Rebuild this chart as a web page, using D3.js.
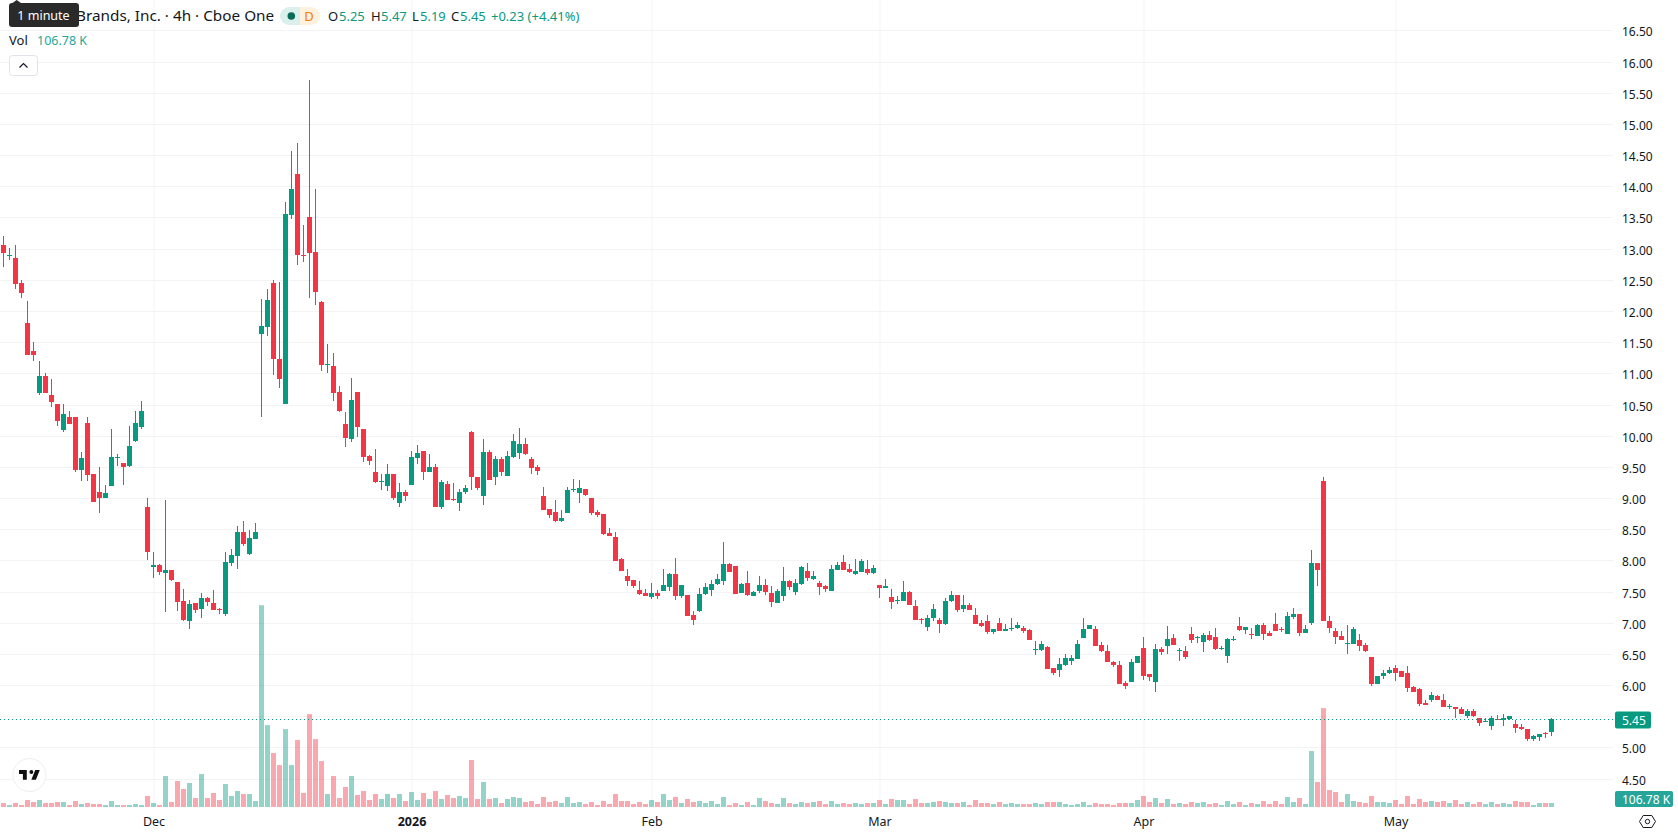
<!DOCTYPE html>
<html>
<head>
<meta charset="utf-8">
<style>
  html, body { margin: 0; padding: 0; background: #fff; }
  svg { display: block; }
  text { font-family: "Noto Sans", "Open Sans", sans-serif; }
</style>
<script src="https://cdn.jsdelivr.net/npm/d3@7/dist/d3.min.js"></script>
</head>
<body>
<div id="chart"></div>
<script>
// Four-hour OHLC candles, oldest first
const opens = [
13.06,12.89,12.85,12.45,11.81,11.36,10.69,10.96,10.66,10.51,
10.09,10.30,10.30,9.45,10.21,9.39,9.10,9.00,9.19,9.64,
9.56,9.52,9.92,10.14,8.86,7.89,7.93,7.80,7.85,7.65,
7.35,7.03,7.32,7.22,7.40,7.32,7.22,7.14,7.96,8.07,
8.46,8.10,8.34,11.63,11.75,12.45,11.23,10.51,13.54,14.19,
12.90,13.51,12.95,12.15,11.14,11.12,10.70,10.19,9.95,10.70,
10.11,9.68,9.42,9.26,9.20,9.39,8.92,9.10,9.21,9.64,
9.76,9.42,9.50,8.86,9.23,8.99,8.92,9.10,10.06,9.34,
9.03,9.74,9.34,9.63,9.36,9.66,9.72,9.87,9.63,9.50,
9.03,8.82,8.78,8.63,8.76,9.13,9.08,9.15,9.00,8.78,
8.74,8.44,8.37,8.02,7.75,7.69,7.53,7.48,7.41,7.48,
7.51,7.57,7.78,7.43,7.45,7.12,7.19,7.46,7.53,7.62,
7.67,7.94,7.91,7.48,7.64,7.43,7.51,7.61,7.48,7.32,
7.43,7.67,7.49,7.62,7.83,7.70,7.64,7.59,7.51,7.85,
7.97,7.86,7.78,7.81,7.86,7.80,7.60,7.56,7.41,7.35,
7.35,7.49,7.27,7.06,6.93,7.07,7.04,6.98,7.35,7.44,
7.22,7.28,7.12,6.99,7.03,6.85,6.99,6.87,6.90,6.91,
6.91,6.88,6.57,6.56,6.61,6.27,6.24,6.32,6.38,6.42,
6.75,6.90,6.90,6.64,6.55,6.37,6.32,6.03,6.05,6.35,
6.59,6.18,6.05,6.58,6.63,6.76,6.56,6.55,6.82,6.76,
6.69,6.80,6.77,6.58,6.47,6.72,6.95,6.88,6.82,6.79,
6.96,6.83,6.98,6.90,6.82,7.09,7.14,6.83,6.99,7.96,
9.27,7.03,6.87,6.79,6.66,6.66,6.72,6.64,6.45,6.02,
6.14,6.19,6.27,6.23,6.19,5.97,5.94,5.71,5.76,5.82,
5.76,5.65,5.65,5.62,5.50,5.58,5.47,5.41,5.34,5.46,
5.44,5.46,5.37,5.33,5.29,5.13,5.17,5.23,5.25];
const highs = [
13.21,13.01,13.06,12.50,12.16,11.51,11.20,11.01,10.91,10.51,
10.51,10.40,10.30,9.74,10.30,9.39,9.50,9.21,10.11,9.71,
9.56,10.16,10.40,10.56,9.00,8.14,7.94,8.97,7.85,7.65,
7.54,7.36,7.32,7.48,7.41,7.53,7.24,8.14,8.18,8.55,
8.63,8.49,8.60,12.20,12.36,12.49,12.47,13.74,14.56,14.70,
13.38,15.70,13.95,12.16,11.47,11.33,10.80,10.38,10.93,10.70,
10.11,9.69,9.79,9.39,9.55,9.39,9.24,9.13,9.76,9.85,
9.76,9.71,9.55,9.29,9.28,9.24,9.15,9.21,10.08,9.34,
9.95,9.77,9.68,9.66,9.76,10.03,10.13,9.97,9.66,9.53,
9.18,8.82,8.97,8.81,9.18,9.31,9.29,9.15,9.00,8.81,
8.74,8.52,8.46,8.04,7.86,7.69,7.67,7.54,7.64,7.53,
7.86,7.80,8.04,7.61,7.45,7.19,7.56,7.64,7.69,7.78,
8.30,7.96,7.91,7.64,7.83,7.51,7.75,7.70,7.59,7.54,
7.89,7.69,7.70,7.91,7.96,7.83,7.67,7.61,7.93,7.97,
8.09,7.94,8.02,8.02,8.01,7.93,7.60,7.70,7.54,7.43,
7.67,7.51,7.36,7.07,7.12,7.30,7.07,7.40,7.51,7.44,
7.44,7.32,7.23,7.04,7.12,6.90,7.07,6.98,7.07,7.01,
6.95,6.90,6.71,6.71,6.63,6.27,6.43,6.50,6.48,6.72,
7.07,6.96,6.95,6.69,6.64,6.38,6.38,6.06,6.42,6.46,
6.77,6.18,6.66,6.61,6.95,6.82,6.60,6.63,6.93,6.79,
6.83,6.87,6.91,6.63,6.76,6.79,7.09,6.93,6.91,6.98,
6.99,6.87,7.16,6.93,7.17,7.24,7.14,6.96,8.17,7.96,
9.34,7.11,6.92,6.87,6.96,6.93,6.82,6.67,6.45,6.14,
6.24,6.29,6.32,6.23,6.31,5.98,5.95,5.76,5.89,5.84,
5.86,5.69,5.65,5.65,5.62,5.62,5.47,5.47,5.50,5.52,
5.54,5.50,5.44,5.37,5.29,5.20,5.21,5.25,5.47];
const lows = [
12.71,12.81,12.36,12.21,11.30,11.20,10.66,10.69,10.46,10.16,
10.06,10.19,9.42,9.27,9.27,8.94,8.76,9.00,9.19,9.52,
9.21,9.50,9.90,10.11,8.01,7.72,7.77,7.17,7.67,7.19,
7.03,6.90,7.16,7.08,7.27,7.20,7.14,7.11,7.91,7.86,
8.23,8.09,8.34,10.30,11.60,10.98,10.77,10.51,13.48,12.74,
12.79,12.21,12.10,11.03,11.01,10.56,10.38,9.82,9.90,9.98,
9.58,9.53,9.24,9.13,9.11,8.97,8.86,8.95,9.21,9.55,
9.29,9.42,8.86,8.83,8.97,8.95,8.79,9.07,9.13,9.13,
8.89,9.29,9.21,9.36,9.36,9.64,9.63,9.69,9.39,9.37,
8.81,8.68,8.62,8.62,8.76,9.10,8.92,9.03,8.73,8.70,
8.41,8.39,7.99,7.83,7.59,7.56,7.45,7.43,7.38,7.38,
7.51,7.51,7.36,7.40,7.11,6.96,7.17,7.45,7.43,7.61,
7.61,7.81,7.46,7.48,7.43,7.43,7.48,7.45,7.25,7.32,
7.35,7.53,7.45,7.61,7.67,7.69,7.45,7.49,7.51,7.85,
7.85,7.80,7.77,7.81,7.77,7.78,7.40,7.56,7.22,7.30,
7.35,7.28,7.04,6.98,6.87,7.03,6.83,6.96,7.33,7.17,
7.17,7.20,6.98,6.93,6.82,6.82,6.87,6.87,6.87,6.90,
6.83,6.72,6.48,6.55,6.26,6.16,6.13,6.30,6.32,6.42,
6.75,6.90,6.63,6.53,6.37,6.29,6.02,5.93,6.05,6.35,
6.08,6.06,5.89,6.48,6.50,6.64,6.39,6.42,6.67,6.67,
6.53,6.71,6.56,6.56,6.35,6.71,6.87,6.82,6.74,6.79,
6.72,6.79,6.87,6.85,6.82,7.06,6.79,6.83,6.96,7.59,
7.03,6.83,6.66,6.72,6.50,6.66,6.55,6.53,5.98,6.02,
6.10,6.18,6.07,6.13,5.89,5.89,5.66,5.68,5.73,5.76,
5.65,5.62,5.47,5.54,5.47,5.49,5.34,5.40,5.28,5.44,
5.34,5.44,5.23,5.28,5.10,5.10,5.10,5.15,5.19];
const closes = [
12.93,12.90,12.44,12.29,11.30,11.30,10.96,10.69,10.54,10.24,
10.35,10.19,9.45,9.64,9.37,8.94,9.00,9.08,9.66,9.66,
9.50,9.84,10.21,10.40,8.14,7.93,7.81,7.85,7.69,7.33,
7.04,7.30,7.20,7.40,7.33,7.20,7.21,7.97,8.09,8.46,
8.26,8.36,8.46,11.76,12.18,11.23,10.91,13.56,13.95,12.89,
12.89,12.93,12.31,11.14,11.15,10.69,10.40,9.97,10.58,10.14,
9.66,9.60,9.26,9.27,9.39,9.00,9.10,9.03,9.66,9.72,
9.42,9.50,8.86,9.26,8.97,8.97,9.10,9.16,9.34,9.16,
9.74,9.29,9.63,9.41,9.68,9.92,9.87,9.71,9.48,9.43,
8.81,8.73,8.63,8.68,9.13,9.15,9.16,9.05,8.76,8.73,
8.42,8.39,7.99,7.83,7.67,7.59,7.46,7.43,7.48,7.43,
7.61,7.78,7.43,7.61,7.11,7.04,7.46,7.57,7.62,7.70,
7.94,7.81,7.46,7.62,7.45,7.49,7.61,7.49,7.33,7.51,
7.67,7.57,7.64,7.89,7.72,7.75,7.57,7.54,7.86,7.93,
7.85,7.81,7.83,7.99,7.80,7.88,7.56,7.59,7.33,7.36,
7.49,7.28,7.04,7.05,7.07,7.22,6.98,7.35,7.44,7.20,
7.28,7.20,6.98,6.95,6.85,6.90,6.87,6.90,6.91,6.96,
6.87,6.72,6.58,6.66,6.26,6.19,6.34,6.43,6.43,6.66,
6.90,6.96,6.63,6.55,6.37,6.32,6.02,5.98,6.37,6.46,
6.14,6.13,6.58,6.53,6.74,6.64,6.57,6.45,6.72,6.77,
6.80,6.72,6.58,6.60,6.74,6.74,6.88,6.93,6.81,6.96,
6.82,6.79,6.87,6.89,7.11,7.14,6.83,6.90,7.96,7.85,
7.03,6.92,6.77,6.72,6.67,6.90,6.63,6.55,6.02,6.14,
6.19,6.24,6.19,6.13,5.95,5.89,5.69,5.68,5.84,5.76,
5.65,5.66,5.62,5.54,5.58,5.50,5.39,5.42,5.47,5.45,
5.47,5.50,5.31,5.29,5.13,5.18,5.21,5.21,5.45];
// Volume per candle, in thousands of shares
const volumes = [
107,53,107,53,187,134,187,107,107,134,
134,53,160,80,107,80,80,53,160,53,
53,53,80,53,294,107,53,828,134,694,
481,641,240,881,240,374,187,614,294,427,
347,347,160,5393,2189,1442,1121,2083,1121,1789,
374,2483,1816,1228,347,828,240,534,828,320,
427,187,347,214,347,240,347,160,400,187,
374,214,427,214,320,240,294,240,1255,214,
668,214,240,107,214,267,240,134,160,80,
267,134,160,107,267,107,134,80,134,53,
160,80,347,160,160,80,134,80,187,134,
347,187,267,107,214,134,160,107,160,80,
267,53,107,53,134,53,240,160,107,80,
240,107,80,134,107,134,160,80,160,80,
107,80,107,80,107,107,187,80,214,187,
187,80,214,107,107,134,160,134,107,107,
134,53,187,107,107,80,134,80,107,80,
80,80,107,80,134,134,134,80,53,80,
134,53,107,80,80,53,107,107,107,187,
294,134,240,107,214,80,107,80,134,107,
134,80,107,53,160,80,134,53,107,80,
160,80,160,80,267,134,240,80,1495,668,
2643,454,400,134,347,160,134,107,294,134,
134,107,187,80,294,80,214,134,160,134,
160,107,187,80,134,80,134,80,134,80,
107,80,160,134,134,53,107,107,106.78];

const priceTicks = [4.5,5,5.5,6,6.5,7,7.5,8,8.5,9,9.5,10,10.5,11,11.5,12,12.5,13,13.5,14,14.5,15,15.5,16,16.5];
// Grid level whose label gives way to the last-price tag
const priceLabelHidden = 5.5;
// Candle index at which each date label falls
const dateTickIndex = [25, 68, 108, 146, 190, 232];
const dateTickLabels = ["Dec", "2026", "Feb", "Mar", "Apr", "May"];

const titleText = "Brands, Inc. · 4h · Cboe One";
const lastPrice = 5.45;
const lastVolumeLabel = "106.78 K";
const legendNames = ["O", "H", "L", "C"];
const legendValues = ["5.25", "5.47", "5.19", "5.45"];
const legendChange = "+0.23 (+4.41%)";

const width = 1678, height = 835, plotRight = 1613, plotBottom = 807;
const upColor = "#089981", downColor = "#f23645", gridColor = "#f2f3f5", ink = "#131722";

const svg = d3.select("#chart").append("svg").attr("width", width).attr("height", height);
svg.append("rect").attr("width", width).attr("height", height).attr("fill", "#fff");

const x = d3.scaleLinear().domain([0, opens.length - 1]).range([3.5, 1551.5]);
const y = d3.scaleLinear().domain([4.5, 16.5]).rangeRound([778.6, 30.4]);
const yVol = d3.scaleLinear().domain([0, 5400]).range([plotBottom, 605]);

const priceFormat = d3.format(".2f");

// Price axis: its inner ticks double as the horizontal grid
const priceAxis = svg.append("g").attr("transform", `translate(${plotRight},0)`)
  .call(d3.axisRight(y).tickValues(priceTicks)
    .tickFormat(d => d === priceLabelHidden ? "" : priceFormat(d))
    .tickSizeOuter(0).tickSizeInner(-plotRight).tickPadding(9));
priceAxis.select(".domain").remove();
priceAxis.selectAll("line").attr("stroke", gridColor);
priceAxis.selectAll("text").attr("fill", ink).attr("font-size", 12).attr("dy", "0.42em");

// Date axis: its inner ticks double as the vertical grid
const dateAxis = svg.append("g").attr("transform", `translate(0,${plotBottom})`)
  .call(d3.axisBottom(x).tickValues(dateTickIndex).tickFormat((d, i) => dateTickLabels[i]).tickSizeOuter(0).tickSizeInner(-plotBottom).tickPadding(10));
dateAxis.select(".domain").remove();
dateAxis.selectAll("line").attr("stroke", gridColor);
dateAxis.selectAll("text").attr("fill", ink).attr("font-size", 12.5)
  .attr("font-weight", (d, i) => dateTickLabels[i] === "2026" ? 700 : 400);

const candles = opens.map((o, i) => ({ i, o, h: highs[i], l: lows[i], c: closes[i], v: volumes[i], up: closes[i] >= o }));
const tone = d => d.up ? upColor : downColor;

// Volume columns sit underneath the candles
svg.append("g").selectAll("rect").data(candles).join("rect")
  .attr("x", d => x(d.i) - 2.5).attr("width", 5)
  .attr("y", d => yVol(d.v)).attr("height", d => plotBottom - yVol(d.v))
  .attr("fill", tone).attr("fill-opacity", 0.43);

const candleLayer = svg.append("g");
candleLayer.selectAll(".wick").data(candles).join("rect").attr("class", "wick")
  .attr("x", d => x(d.i) - 0.5).attr("width", 1)
  .attr("y", d => y(d.h)).attr("height", d => Math.max(1, y(d.l) - y(d.h)))
  .attr("fill", tone);
candleLayer.selectAll(".body").data(candles).join("rect").attr("class", "body")
  .attr("x", d => x(d.i) - 2.5).attr("width", 5)
  .attr("y", d => Math.min(y(d.o), y(d.c)))
  .attr("height", d => Math.max(1, Math.abs(y(d.o) - y(d.c))))
  .attr("fill", tone);

// Dotted last-price line and its axis tag
svg.append("line").attr("x1", 0).attr("x2", plotRight)
  .attr("y1", y(lastPrice) + 0.5).attr("y2", y(lastPrice) + 0.5)
  .attr("stroke", upColor).attr("stroke-width", 1).attr("stroke-dasharray", "1 3");
svg.append("rect").attr("x", 1615).attr("y", y(lastPrice) - 7.5).attr("width", 36).attr("height", 17).attr("rx", 2).attr("fill", upColor);
svg.append("text").attr("x", 1622).attr("y", y(lastPrice) + 5.5).attr("fill", "#fff").attr("font-size", 12).text(priceFormat(lastPrice));

// Volume tag pinned to the base of the volume pane
svg.append("rect").attr("x", 1615).attr("y", 791).attr("width", 58).attr("height", 16).attr("rx", 2).attr("fill", "#26a69a");
svg.append("text").attr("x", 1622).attr("y", 803.5).attr("fill", "#fff").attr("font-size", 12).text(lastVolumeLabel);

// Legend row
svg.append("text").attr("x", 76).attr("y", 21).attr("fill", ink).attr("font-size", 15.3).text(titleText);
svg.append("path").attr("d", "M300 7H289a9 9 0 0 0 0 18H300Z").attr("fill", "#d9f0ec");
svg.append("path").attr("d", "M300 7H311a9 9 0 0 1 0 18H300Z").attr("fill", "#fff1de");
svg.append("circle").attr("cx", 291.3).attr("cy", 16).attr("r", 3.8).attr("fill", "#0b6b5a");
svg.append("text").attr("x", 309).attr("y", 21).attr("text-anchor", "middle").attr("fill", "#f57c00").attr("font-size", 13).text("D");

const legendNameX = [328, 371, 412, 451];
const legendValueX = [339, 381, 420, 460];
legendNames.forEach((name, i) => {
  svg.append("text").attr("x", legendNameX[i]).attr("y", 21).attr("fill", ink).attr("font-size", 13).text(name);
  svg.append("text").attr("x", legendValueX[i]).attr("y", 21).attr("fill", upColor).attr("font-size", 13).text(legendValues[i]);
});
svg.append("text").attr("x", 491).attr("y", 21).attr("fill", upColor).attr("font-size", 13).text(legendChange);

svg.append("text").attr("x", 9).attr("y", 45).attr("fill", ink).attr("font-size", 13).text("Vol");
svg.append("text").attr("x", 37).attr("y", 45).attr("fill", "#26a69a").attr("font-size", 12.5).text(lastVolumeLabel);

// Collapse button
svg.append("rect").attr("x", 9.5).attr("y", 55.5).attr("width", 28).attr("height", 20).attr("rx", 3)
  .attr("fill", "#fff").attr("stroke", "#e0e3eb");
svg.append("path").attr("d", "M19.5 67.5l4-4 4 4").attr("fill", "none").attr("stroke", ink).attr("stroke-width", 1.2);

// Hover hint over the start of the title
svg.append("path").attr("d", "M12.5 3L16.7 0 21 3Z").attr("fill", "#2a2a2a");
svg.append("rect").attr("x", 9).attr("y", 3).attr("width", 70).attr("height", 24).attr("rx", 3).attr("fill", "#2a2a2a");
svg.append("text").attr("x", 43.5).attr("y", 20).attr("text-anchor", "middle").attr("fill", "#fff").attr("font-size", 12.5).text("1 minute");

// Watermark badge
svg.append("circle").attr("cx", 29.5).attr("cy", 775).attr("r", 16.5).attr("fill", "#fff").attr("stroke", "#eceef1").attr("stroke-width", 1);
svg.append("path").attr("transform", "translate(17.7,766.1) scale(0.65)")
  .attr("d", "M14 6H2v6h6v9h6V6Zm14 15h-7l6-15h7l-6 15Zm-7-9a3 3 0 1 0 0-6 3 3 0 0 0 0 6Z").attr("fill", "#111");

// Settings gear
svg.append("path").attr("d", "M1639.5 821.5l3.7-6h8.6l3.7 6-3.7 6h-8.6Z").attr("fill", "none").attr("stroke", ink).attr("stroke-width", 1);
svg.append("circle").attr("cx", 1647.5).attr("cy", 821.5).attr("r", 2.2).attr("fill", "none").attr("stroke", ink).attr("stroke-width", 1);
</script>
</body>
</html>
